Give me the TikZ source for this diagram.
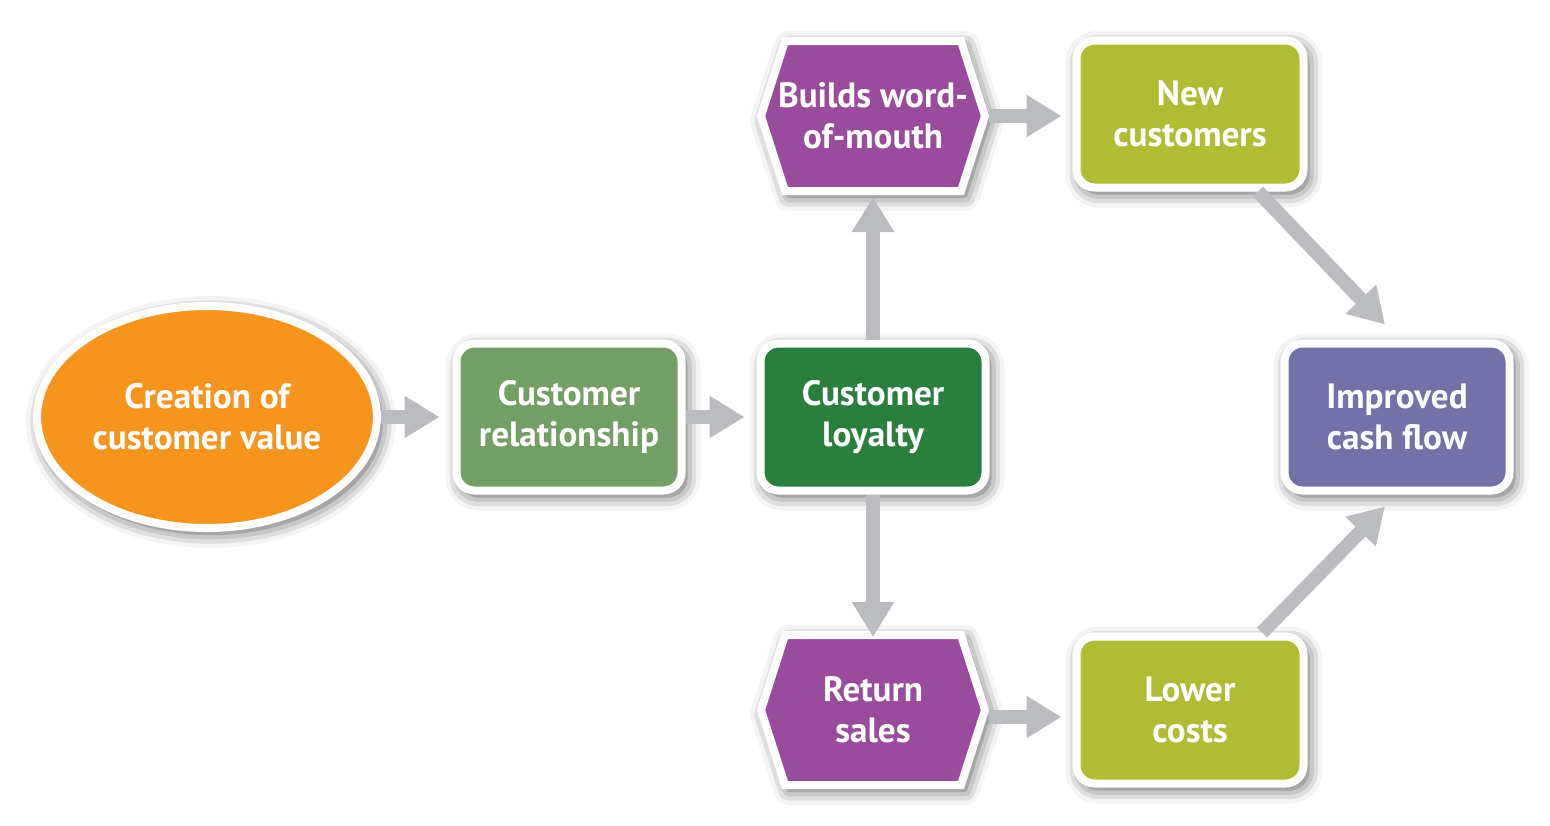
\documentclass[tikz,border=0pt]{standalone}
\usepackage{fontspec}
\setmainfont{PT Sans}
\usetikzlibrary{shapes.geometric,arrows.meta,shadows.blur,calc,backgrounds}
\definecolor{corange}{HTML}{F7941E}
\definecolor{cgreenl}{HTML}{739E66}
\definecolor{cgreend}{HTML}{2A7E3E}
\definecolor{cpurple}{HTML}{994B9C}
\definecolor{colive}{HTML}{B1BC35}
\definecolor{cviolet}{HTML}{7471A9}
\definecolor{carrow}{HTML}{BBBCBF}
\tikzset{
  shad/.style={blur shadow={shadow xshift=0.08cm, shadow yshift=-0.1cm, shadow blur radius=0.3cm, shadow opacity=70}},
  txt/.style={text=white, font=\fontsize{20}{23.5}\selectfont\bfseries, align=center},
  box/.style={txt, draw=white, line width=0.16cm, shad},
  rbox/.style={box, rectangle, rounded corners=0.36cm, minimum width=4.5cm, minimum height=2.94cm},
  hextext/.style={txt, rectangle, inner sep=0pt, outer sep=0pt, minimum width=4.48cm, minimum height=3.0cm},
  hexshape/.style={draw=white, line width=0.16cm, line join=miter, fill=cpurple, shad},
  ellbox/.style={box, ellipse, minimum width=6.66cm, minimum height=4.44cm},
  garrow/.style={draw=carrow, line width=0.28cm, -{Triangle[width=0.8cm,length=0.7cm]}},
}
\begin{document}
\begin{tikzpicture}
\useasboundingbox (0,0) rectangle (31,-16.5);
\node[ellbox, fill=corange] (ell) at (4.14,-8.34) {Creation of\\customer value};
\node[rbox, fill=cgreenl] (cr) at (11.38,-8.34) {Customer\\relationship};
\node[rbox, fill=cgreend] (cl) at (17.46,-8.34) {Customer\\loyalty};
\node[hextext] (bw) at (17.46,-2.32) {Builds word-\\of-mouth};
\node[rbox, fill=colive, minimum width=4.54cm] (nc) at (23.8,-2.28) {New\\customers};
\node[hextext] (rs) at (17.46,-14.2) {Return\\sales};
\node[rbox, fill=colive, minimum width=4.54cm] (lc) at (23.8,-14.2) {Lower\\costs};
\node[rbox, fill=cviolet] (icf) at (27.94,-8.34) {Improved\\cash flow};

\begin{scope}[on background layer]
\foreach \h in {bw,rs}{
  \draw[hexshape] (\h.west) -- ($(\h.north west)+(0.48,0)$) -- ($(\h.north east)+(-0.48,0)$)
    -- (\h.east) -- ($(\h.south east)+(-0.48,0)$) -- ($(\h.south west)+(0.48,0)$) -- cycle;
}
\end{scope}

\draw[garrow, shorten >=0.26cm] (ell.east) -- (cr.west);
\draw[garrow, shorten >=0.24cm] (cr.east) -- (cl.west);
\draw[garrow, shorten >=0.2cm] (cl.north) -- ([yshift=0.08cm]bw.south);
\draw[garrow, shorten >=0.04cm] (cl.south) -- ([yshift=-0.08cm]rs.north);
\draw[garrow, shorten >=0.22cm] ([xshift=0.08cm]bw.east) -- (bw.east -| nc.west);
\draw[garrow, shorten >=0.22cm] ([xshift=0.08cm,yshift=-0.14cm]rs.east) -- ([yshift=-0.14cm]lc.west);
\coordinate (a1) at ([xshift=1.36cm]nc.south);
\coordinate (a2) at ([xshift=-0.24cm,yshift=0.3cm]icf.north);
\draw[garrow] (a1) -- (a2);
\coordinate (b1) at ([xshift=1.44cm]lc.north);
\coordinate (b2) at ([xshift=-0.24cm,yshift=-0.24cm]icf.south);
\draw[garrow] (b1) -- (b2);
\end{tikzpicture}
\end{document}
